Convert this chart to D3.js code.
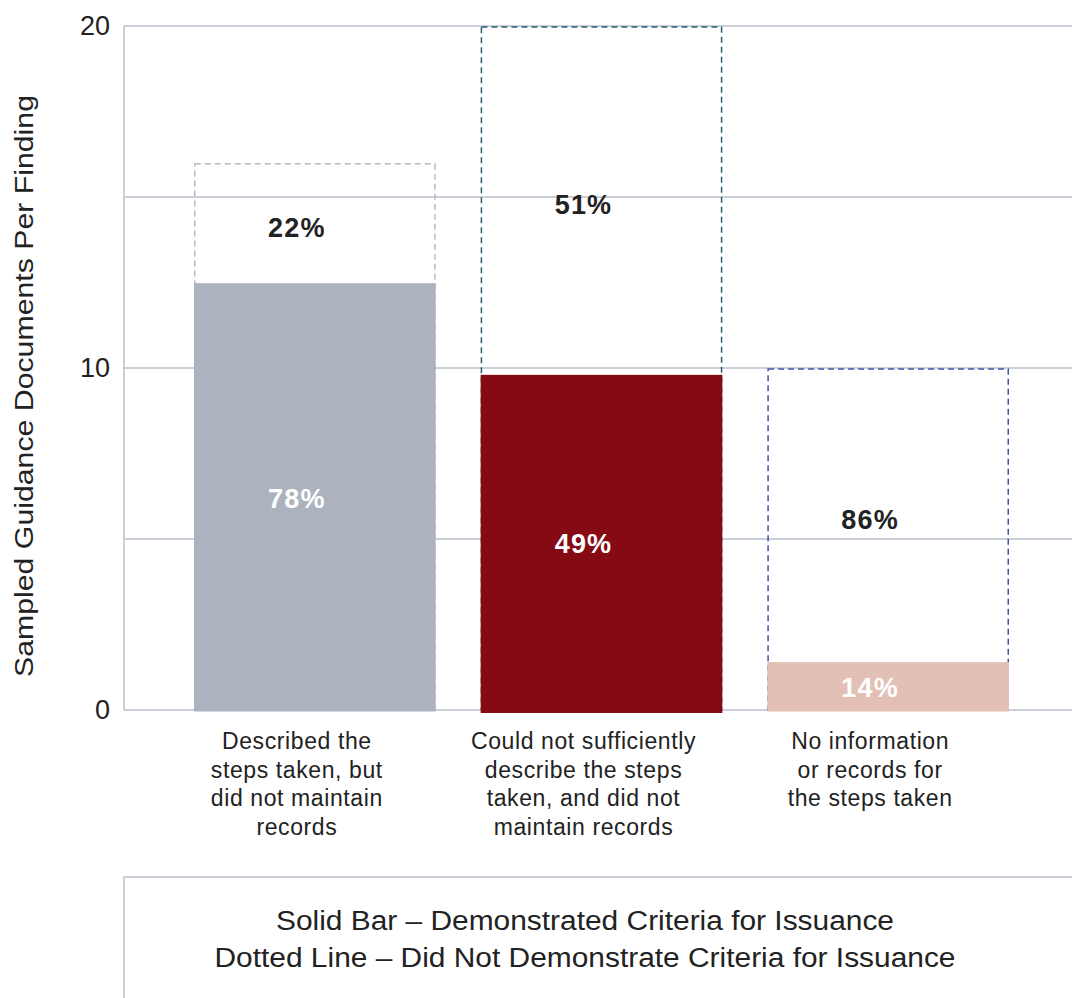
<!DOCTYPE html>
<html>
<head>
<meta charset="utf-8">
<script src="https://cdn.jsdelivr.net/npm/d3@7"></script>
<style>
  html, body { margin: 0; padding: 0; background: #fff; }
  svg { display: block; font-family: "Liberation Sans", Arial, sans-serif; }
</style>
</head>
<body>
<svg id="chart" width="1072" height="998"></svg>
<script>
// Findings per category
const categories = [
  ["Described the", "steps taken, but", "did not maintain", "records"],
  ["Could not sufficiently", "describe the steps", "taken, and did not", "maintain records"],
  ["No information", "or records for", "the steps taken"]
];
const totals = [16, 20, 10];            // sampled documents per finding
const demonstratedPct = [78, 49, 14];   // share that demonstrated criteria
const yTicks = [0, 10, 20];
const gridTicks = [0, 5, 10, 15, 20];
const solidColors = ["#adb3be", "#850a14", "#e2c0b5"];
const dashColors = ["#b5bac5", "#2d5d72", "#3f55a6"];
const solidLabelColors = ["#ffffff", "#ffffff", "#ffffff"];
const legendLines = [
  "Solid Bar \u2013 Demonstrated Criteria for Issuance",
  "Dotted Line \u2013 Did Not Demonstrate Criteria for Issuance"
];

const rows = categories.map((c, i) => ({
  i,
  lines: c,
  total: totals[i],
  pct: demonstratedPct[i],
  solid: totals[i] * demonstratedPct[i] / 100
}));

const svg = d3.select("#chart");
const plotLeft = 124, plotRight = 1072, plotTop = 26, plotBottom = 710;
const labelShift = -18; // text sits slightly left of each bar's centre

const y = d3.scaleLinear().domain([0, 20]).range([plotBottom, plotTop]);
const x = d3.scaleBand()
  .domain(rows.map(d => d.i))
  .range([171.5, 1031.5])
  .paddingInner(0.157)
  .paddingOuter(0.0785);
const cx = d => x(d.i) + x.bandwidth() / 2 + labelShift;

const gridColor = "#b9c0cc";

// horizontal gridlines
svg.append("g").selectAll("line")
  .data(gridTicks)
  .join("line")
  .attr("x1", plotLeft).attr("x2", plotRight)
  .attr("y1", d => y(d)).attr("y2", d => y(d))
  .attr("stroke", gridColor).attr("stroke-width", 1.5);

// y axis
const yAxis = d3.axisLeft(y).tickValues(yTicks).tickSize(0).tickPadding(14);
const gy = svg.append("g").attr("transform", `translate(${plotLeft},0)`).call(yAxis);
gy.select(".domain").attr("stroke", gridColor).attr("stroke-width", 1.5)
  .attr("d", `M0,${plotTop}V${plotBottom}`);
gy.selectAll(".tick text")
  .attr("font-size", 27)
  .attr("fill", "#222")
  .attr("font-family", "Liberation Sans, Arial, sans-serif");

// y axis title
svg.append("text")
  .attr("transform", `translate(33,${(95 + 677) / 2}) rotate(-90)`)
  .attr("text-anchor", "middle")
  .attr("font-size", 25.5)
  .attr("fill", "#222")
  .attr("textLength", 582)
  .attr("lengthAdjust", "spacingAndGlyphs")
  .text("Sampled Guidance Documents Per Finding");

// dotted outlines (totals), drawn underneath the solid bars
svg.append("g").selectAll("rect")
  .data(rows)
  .join("rect")
  .attr("x", d => x(d.i) + 0.75)
  .attr("width", x.bandwidth() - 1.5)
  .attr("y", d => y(d.total) + 1)
  .attr("height", d => y(0) - y(d.total) - 1)
  .attr("fill", "none")
  .attr("stroke", d => dashColors[d.i])
  .attr("stroke-width", 1.5)
  .attr("stroke-dasharray", "6,4");

// solid bars (demonstrated)
svg.append("g").selectAll("rect")
  .data(rows)
  .join("rect")
  .attr("x", d => x(d.i))
  .attr("width", x.bandwidth())
  .attr("y", d => y(d.solid))
  .attr("height", d => y(0) - y(d.solid) + (d.i === 1 ? 3 : 1.5))
  .attr("fill", d => solidColors[d.i]);

// percentage labels
const labels = svg.append("g")
  .attr("font-weight", "bold")
  .attr("font-size", 27)
  .attr("letter-spacing", 1.2)
  .attr("text-anchor", "middle");

labels.selectAll("text.solid")
  .data(rows)
  .join("text")
  .attr("class", "solid")
  .attr("x", cx)
  .attr("y", d => y(d.solid / 2) + 11)
  .attr("fill", d => solidLabelColors[d.i])
  .text(d => d.pct + "%");

labels.selectAll("text.dash")
  .data(rows)
  .join("text")
  .attr("class", "dash")
  .attr("x", cx)
  .attr("y", d => y((d.total + d.solid) / 2) + 14)
  .attr("fill", "#222")
  .text(d => (100 - d.pct) + "%");

// category labels
const cat = svg.append("g")
  .attr("font-size", 23)
  .attr("letter-spacing", 0.6)
  .attr("fill", "#222")
  .attr("text-anchor", "middle");
rows.forEach(d => {
  const t = cat.append("text");
  d.lines.forEach((ln, k) => {
    t.append("tspan")
      .attr("x", cx(d))
      .attr("y", 749 + k * 28.7)
      .text(ln);
  });
});

// legend box
svg.append("path")
  .attr("d", `M${plotLeft},${1000}V877H${1080}`)
  .attr("fill", "none")
  .attr("stroke", gridColor)
  .attr("stroke-width", 1.5);

const legendWidths = [618, 741];
svg.append("g")
  .attr("font-size", 27)
  .attr("fill", "#222")
  .attr("text-anchor", "middle")
  .selectAll("text")
  .data(legendLines)
  .join("text")
  .attr("x", 585)
  .attr("y", (d, k) => 930 + k * 37)
  .attr("textLength", (d, k) => legendWidths[k])
  .attr("lengthAdjust", "spacingAndGlyphs")
  .text(d => d);
</script>
</body>
</html>
